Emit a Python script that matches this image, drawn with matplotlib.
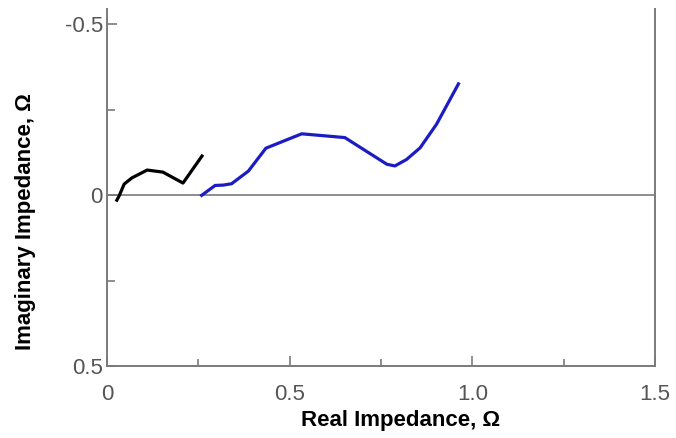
import matplotlib
matplotlib.use("Agg")
import matplotlib.pyplot as plt

plt.rcParams['font.family'] = ['Liberation Sans', 'DejaVu Sans']

# Nyquist data (imaginary axis is inverted)
black_real = [0.027, 0.033, 0.047, 0.068, 0.110, 0.153, 0.208, 0.260]
black_imag = [0.015, 0.003, -0.032, -0.050, -0.073, -0.067, -0.035, -0.114]

blue_real = [0.259, 0.296, 0.318, 0.341, 0.387, 0.435, 0.533, 0.651,
             0.766, 0.788, 0.820, 0.857, 0.902, 0.962]
blue_imag = [0.001, -0.028, -0.029, -0.033, -0.070, -0.137, -0.179, -0.168,
             -0.090, -0.085, -0.104, -0.138, -0.207, -0.325]

x_ticks = [0, 0.5, 1.0, 1.5]
x_tick_labels = ["0", "0.5", "1.0", "1.5"]
y_ticks = [-0.5, 0, 0.5]
y_tick_labels = ["-0.5", "0", "0.5"]

W, H = 676, 438
fig = plt.figure(figsize=(W / 100, H / 100), dpi=100)
ax = fig.add_axes([107 / W, 1 - 366 / H, (655 - 107) / W, (366 - 9) / H])

spine_col = "#7a7a7a"
ax.axhline(0, color=spine_col, lw=1.2, zorder=1)
ax.plot(black_real, black_imag, color="black", lw=2.3, zorder=3)
ax.plot(blue_real, blue_imag, color="#1c1cc4", lw=2.3, zorder=3)

ax.set_xlim(0, 1.5)
ax.set_ylim(0.5, -0.544)

ax.set_xticks(x_ticks)
ax.set_xticklabels(x_tick_labels)
ax.set_xticks([0.25, 0.75, 1.25], minor=True)
ax.set_yticks(y_ticks)
ax.set_yticklabels(y_tick_labels)
ax.set_yticks([-0.25, 0.25], minor=True)

ax.tick_params(axis="both", which="both", direction="in", color=spine_col,
               labelcolor="#555555", labelsize=16)
ax.tick_params(axis="x", which="major", length=7, width=1.2, pad=13)
ax.tick_params(axis="x", which="minor", length=5, width=1.2)
ax.tick_params(axis="y", which="major", length=7, width=1.2, pad=3)
ax.tick_params(axis="y", which="minor", length=6, width=1.2)

ax.spines["top"].set_visible(False)
for side in ("left", "right", "bottom"):
    ax.spines[side].set_color(spine_col)
    ax.spines[side].set_linewidth(1.4)

ax.set_xlabel("Real Impedance, Ω", fontsize=16, fontweight="bold")
ax.xaxis.set_label_coords((401 - 107) / 548, -(410 - 366) / 357)
ax.set_ylabel("Imaginary Impedance, Ω", fontsize=16, fontweight="bold")
ax.yaxis.set_label_coords(-(107 - 36) / 548, (366 - 222) / 357)

fig.savefig("out.png", dpi=100)
